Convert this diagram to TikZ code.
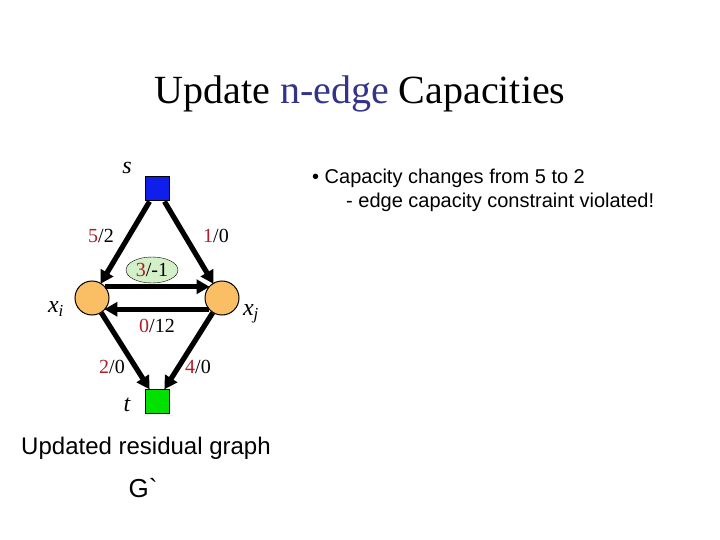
\documentclass[tikz,border=0pt]{standalone}
\usepackage{fontspec}
\setmainfont{Liberation Serif}
\setsansfont{Liberation Sans}
\usepackage{xcolor}
\usepackage{tikz}
\usetikzlibrary{arrows.meta,positioning,shapes.geometric}
\definecolor{rojocap}{RGB}{175,30,40}
\definecolor{azultit}{RGB}{51,51,140}
\definecolor{azulnodo}{RGB}{15,30,235}
\definecolor{verdenodo}{RGB}{0,225,0}
\definecolor{naranjanodo}{RGB}{250,190,100}
\definecolor{verdeclaro}{RGB}{212,240,200}
\newcommand{\capflujo}[2]{\textcolor{rojocap}{#1}/#2}

\begin{document}
\begin{tikzpicture}[x=1pt,y=1pt,
  vert/.style={circle,draw,line width=1pt,fill=naranjanodo,minimum size=34pt,inner sep=0pt},
  term/.style={rectangle,draw,line width=1pt,minimum size=24pt,inner sep=0pt},
  etiq/.style={font=\fontsize{20}{22}\selectfont,inner sep=1pt},
  nom/.style={font=\fontsize{24}{28}\selectfont\itshape,inner sep=0pt},
  ar/.style={-{Triangle[length=13pt,width=14pt]},line width=5.2pt,shorten >=-1pt},
  texto/.style={font=\sffamily,inner sep=0pt}
]
\useasboundingbox (0,0) rectangle (720,-540);

\node[font=\fontsize{40}{46}\selectfont] (titulo) at (360,-94)
  {Update \textcolor{azultit}{n-edge} Capacities};

% nodos del grafo
\node[term,fill=azulnodo]  (s)  at (157,-189) {};
\node[vert]                (xi) at (92,-298)  {};
\node[vert]                (xj) at (222,-298) {};
\node[term,fill=verdenodo] (t)  at (157,-401) {};

\node[nom] (ls)  at (127,-168) {s};
\node[nom] (lxi) at (56,-309)  {x\textsubscript{i}};
\node[nom] (lxj) at (251,-314) {x\textsubscript{j}};
\node[nom] (lt)  at (127,-405) {t};

% aristas
\draw[ar] (s) -- (xi);
\draw[ar] (s) -- (xj);
\draw[ar] (xi.40) -- (xj.140);
\draw[ar] (xj.-140) -- (xi.-40);
\draw[ar] (xi) -- (t);
\draw[ar] (xj) -- (t);

% capacidades
\node[etiq] (c1) at (101,-236) {\capflujo{5}{2}};
\node[etiq] (c2) at (216,-236) {\capflujo{1}{0}};
\node[etiq,ellipse,draw,fill=verdeclaro,minimum width=52pt,minimum height=26pt,inner sep=0pt]
  (c3) at (152,-270) {\capflujo{3}{-1}};
\node[etiq] (c4) at (157,-326) {\capflujo{0}{12}};
\node[etiq] (c5) at (112,-367) {\capflujo{2}{0}};
\node[etiq] (c6) at (198,-367) {\capflujo{4}{0}};

\node[texto,font=\sffamily\fontsize{20}{24}\selectfont,anchor=west,align=left] (nota) at (312,-190)
  {• Capacity changes from 5 to 2\\\hspace*{1.7em}- edge capacity constraint violated!};
\node[texto,font=\sffamily\fontsize{24}{28}\selectfont] (leyenda) at (146,-448) {Updated residual graph};
\node[texto,font=\sffamily\fontsize{26}{30}\selectfont] (g) at (143,-488) {G\textasciigrave};
\end{tikzpicture}
\end{document}
